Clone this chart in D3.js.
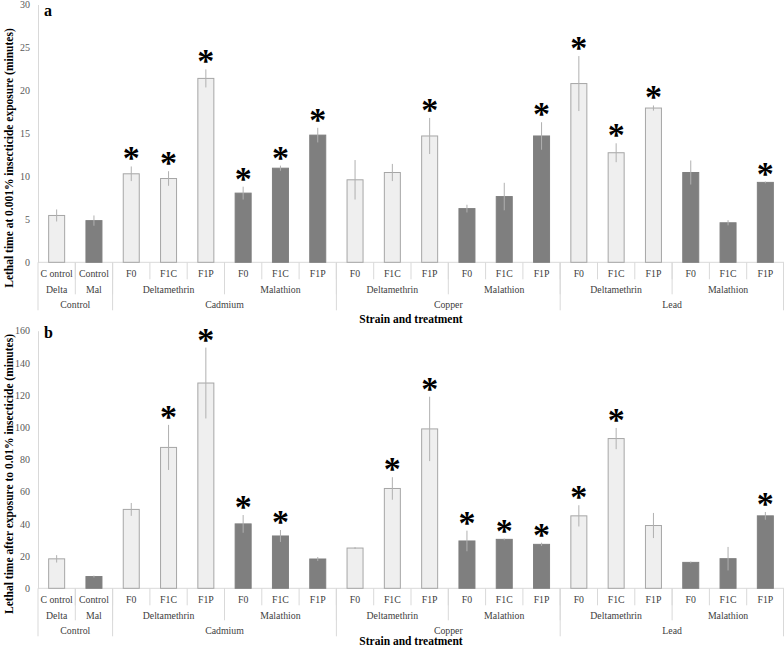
<!DOCTYPE html>
<html><head><meta charset="utf-8">
<script src="https://cdn.jsdelivr.net/npm/d3@7/dist/d3.min.js"></script>
<style>body{margin:0;background:#fff;} svg{display:block;} svg text{font-family:"Liberation Serif","Times New Roman","DejaVu Serif",serif;}</style>
</head><body>
<svg id="chart" width="784" height="651"></svg>
<script>
// ---- data ----
const level1 = ["C ontrol","Control","F0","F1C","F1P","F0","F1C","F1P","F0","F1C","F1P","F0","F1C","F1P","F0","F1C","F1P","F0","F1C","F1P"];
const level2 = [{name:"Delta",n:1},{name:"Mal",n:1},{name:"Deltamethrin",n:3},{name:"Malathion",n:3},{name:"Deltamethrin",n:3},{name:"Malathion",n:3},{name:"Deltamethrin",n:3},{name:"Malathion",n:3}];
const level3 = [{name:"Control",n:2},{name:"Cadmium",n:6},{name:"Copper",n:6},{name:"Lead",n:6}];
const insecticide = ["D","M","D","D","D","M","M","M","D","D","D","M","M","M","D","D","D","M","M","M"];

const valuesA = [5.45,4.85,10.3,9.75,21.4,8.05,10.95,14.8,9.6,10.45,14.7,6.25,7.65,14.7,20.8,12.75,17.95,10.45,4.6,9.3];
const errorsA = [0.7,0.6,0.85,0.85,1.05,0.75,0.3,0.85,2.3,1.0,2.1,0.45,1.6,1.6,3.2,1.1,0.3,1.4,0.3,0.1];
const starsA  = [0,0,1,1,1,1,1,1,0,0,1,0,0,1,1,1,1,0,0,1];
const ticksA  = [0,5,10,15,20,25,30];

const valuesB = [18.3,7.3,49,87.5,127.5,40,32.5,18.2,25,62,99,29.4,30.4,27.3,45,93,39,16.1,18.4,45];
const errorsB = [2.3,0.6,4,14,22,5.5,3.7,1.2,0.6,7,20,6.4,0.5,1,6.6,6.6,7.8,0.5,7.3,2.4];
const starsB  = [0,0,0,1,1,1,1,0,0,1,1,1,1,1,1,1,0,0,0,1];
const ticksB  = [0,20,40,60,80,100,120,140,160];

const svg = d3.select("#chart");
const left = 38, right = 784;
const grid = "#d9d9d9";

function panel(opt){
  const g = svg.append("g");
  const x = d3.scaleBand().domain(d3.range(level1.length)).range([left,right]).paddingInner(0).paddingOuter(0);
  const y = d3.scaleLinear().domain([0,opt.max]).range([opt.y0,opt.yTop]);
  const bw = 16;
  // y axis
  const yAxis = d3.axisLeft(y).tickValues(opt.ticks).tickSize(0).tickPadding(8);
  const ya = g.append("g").attr("transform",`translate(${left},0)`).call(yAxis);
  ya.select(".domain").attr("stroke",grid);
  ya.selectAll("text").attr("font-family",null).attr("font-size",10).attr("fill","#595959");
  g.append("line").attr("x1",left).attr("x2",left).attr("y1",opt.y0).attr("y2",opt.y0+48).attr("stroke",grid);
  g.append("line").attr("x1",left).attr("x2",right).attr("y1",opt.y0).attr("y2",opt.y0).attr("stroke",grid);

  // bars
  g.selectAll("rect.bar").data(opt.values).join("rect")
    .attr("x",(d,i)=>x(i)+x.bandwidth()/2-bw/2)
    .attr("y",d=>y(d))
    .attr("width",bw)
    .attr("height",d=>opt.y0-y(d))
    .attr("fill",(d,i)=>insecticide[i]==="D"?"#efefef":"#7f7f7f")
    .attr("stroke",(d,i)=>insecticide[i]==="D"?"#a6a6a6":"#7f7f7f")
    .attr("stroke-width",1);
  // error bars
  g.selectAll("line.err").data(opt.values).join("line")
    .attr("x1",(d,i)=>x(i)+x.bandwidth()/2).attr("x2",(d,i)=>x(i)+x.bandwidth()/2)
    .attr("y1",(d,i)=>y(d+opt.errors[i])).attr("y2",(d,i)=>y(Math.max(0,d-opt.errors[i])))
    .attr("stroke","#b0b0b0").attr("stroke-width",1);
  // stars
  g.selectAll("text.star").data(opt.values.map((d,i)=>({d,i})).filter(o=>opt.stars[o.i])).join("text")
    .attr("x",o=>x(o.i)+x.bandwidth()/2)
    .attr("y",o=>y(o.d+opt.errors[o.i])+3)
    .attr("text-anchor","middle")
    .attr("font-weight","bold").attr("font-size",34)
    .attr("fill","#000").text("*");

  // category labels
  const row1 = opt.y0+15, row2 = row1+15.5, row3 = row2+15.5;
  const lab = "#404040", fs = 9.8;
  g.selectAll("text.l1").data(level1).join("text")
    .attr("x",(d,i)=>x(i)+x.bandwidth()/2).attr("y",row1)
    .attr("text-anchor","middle").attr("font-size",fs).attr("fill",lab).text(d=>d);
  for(let i=1;i<level1.length;i++){
    g.append("line").attr("x1",x(i)).attr("x2",x(i)).attr("y1",opt.y0).attr("y2",opt.y0+17).attr("stroke",grid);
  }
  let c=0;
  level2.forEach((gr,k)=>{
    const x0=x(c), x1=x(c+gr.n-1)+x.bandwidth();
    g.append("text").attr("x",(x0+x1)/2).attr("y",row2).attr("text-anchor","middle")
      .attr("font-size",fs).attr("fill",lab).text(gr.name);
    c+=gr.n;
    if(k<level2.length-1) g.append("line").attr("x1",x1).attr("x2",x1).attr("y1",opt.y0).attr("y2",opt.y0+32).attr("stroke",grid);
  });
  c=0;
  level3.forEach((gr,k)=>{
    const x0=x(c), x1=x(c+gr.n-1)+x.bandwidth();
    g.append("text").attr("x",(x0+x1)/2).attr("y",row3).attr("text-anchor","middle")
      .attr("font-size",fs).attr("fill",lab).text(gr.name);
    c+=gr.n;
    const xl=Math.min(x1,right-0.5);
    g.append("line").attr("x1",xl).attr("x2",xl).attr("y1",opt.y0).attr("y2",opt.y0+48).attr("stroke",grid);
  });
  // x title
  g.append("text").attr("x",(left+right)/2).attr("y",opt.titleY).attr("text-anchor","middle")
    .attr("font-weight","bold").attr("font-size",11.5).attr("fill","#000").text("Strain and treatment");
  // y title
  g.append("text").attr("transform",`translate(13,${opt.yTitleC}) rotate(-90)`).attr("text-anchor","middle")
    .attr("font-weight","bold").attr("font-size",11.5).attr("fill","#000").text(opt.yTitle);
  // panel letter
  g.append("text").attr("x",44).attr("y",opt.letterY).attr("font-weight","bold")
    .attr("font-size",16).attr("fill","#000").text(opt.letter);
}

panel({values:valuesA,errors:errorsA,stars:starsA,ticks:ticksA,max:30,y0:262.3,yTop:4.5,titleY:323,
  yTitle:"Lethal time at 0.001% insecticide exposure (minutes)",yTitleC:158,letter:"a",letterY:16});
panel({values:valuesB,errors:errorsB,stars:starsB,ticks:ticksB,max:160,y0:588.3,yTop:330.7,titleY:645,
  yTitle:"Lethal time after exposure to 0.01% insecticide (minutes)",yTitleC:474,letter:"b",letterY:338});
</script>
</body></html>
